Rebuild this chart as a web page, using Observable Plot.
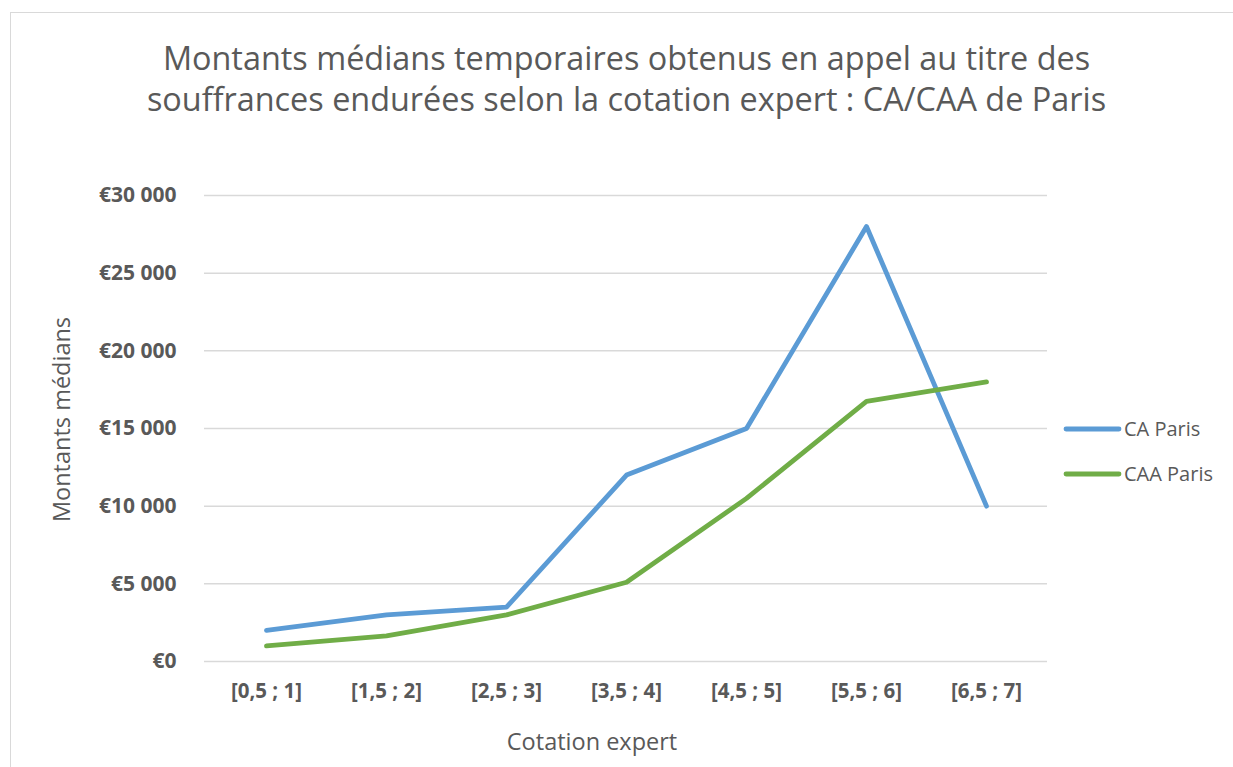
<!DOCTYPE html>
<html>
<head>
<meta charset="utf-8">
<script src="https://cdn.jsdelivr.net/npm/d3@7"></script>
<script src="https://cdn.jsdelivr.net/npm/@observablehq/plot@0.6"></script>
<style>
  html, body { margin: 0; padding: 0; background: #fff; }
  body { width: 1233px; height: 767px; overflow: hidden; position: relative; font-family: "Open Sans", sans-serif; }
  #frame { position: absolute; left: 10px; top: 12px; width: 1240px; height: 800px; border: 1.5px solid #d9d9d9; box-sizing: border-box; }
  #title { position: relative; width: 1233px; height: 150px; text-align: center; color: #595959; font-size: 32.4px; line-height: 41px; padding-top: 37px; padding-left: 20px; box-sizing: border-box; font-family: "Open Sans", sans-serif; white-space: nowrap; }
  #chart { position: relative; }
  #legend { position: absolute; left: 1063px; top: 406px; color: #595959; font-size: 20px; font-family: "Open Sans", sans-serif; }
  .item { display: flex; align-items: center; height: 45px; }
  .item svg { margin-right: 2px; }
</style>
</head>
<body>
<div id="frame"></div>
<div id="title">Montants médians temporaires obtenus en appel au titre des<br>souffrances endurées selon la cotation expert : CA/CAA de Paris</div>
<div id="chart"></div>
<div id="legend"></div>
<script>
const categories = ["[0,5 ; 1]", "[1,5 ; 2]", "[2,5 ; 3]", "[3,5 ; 4]", "[4,5 ; 5]", "[5,5 ; 6]", "[6,5 ; 7]"];
const seriesNames = ["CA Paris", "CAA Paris"];
const caParis = [2000, 3000, 3500, 12000, 15000, 28000, 10000];
const caaParis = [1000, 1650, 3000, 5100, 10500, 16750, 18000];
const yTicks = [0, 5000, 10000, 15000, 20000, 25000, 30000];
const colors = ["#5b9bd5", "#70ad47"];

const data = [];
categories.forEach((c, i) => {
  data.push({cat: c, series: seriesNames[0], value: caParis[i]});
  data.push({cat: c, series: seriesNames[1], value: caaParis[i]});
});

const fmt = d => "€" + d3.format(",")(d).replace(/,/g, " ");

const chart = Plot.plot({
  width: 1233,
  height: 617,
  marginTop: 45,
  marginBottom: 106,
  marginLeft: 204,
  marginRight: 186,
  style: {fontFamily: "'Open Sans', sans-serif", color: "#595959", background: "transparent"},
  x: {type: "point", domain: categories, padding: 0.5, label: null},
  y: {domain: [0, 30000], label: null},
  color: {domain: seriesNames, range: colors},
  marks: [
    Plot.gridY(yTicks, {stroke: "#d9d9d9", strokeOpacity: 1, strokeWidth: 1.5}),
    Plot.axisY(yTicks, {tickSize: 0, tickPadding: 28, tickFormat: fmt, fontSize: 21, fontWeight: "bold", fill: "#595959", label: null}),
    Plot.axisX({tickSize: 0, tickPadding: 22, fontSize: 20.5, fontWeight: "bold", fill: "#595959", label: null}),
    Plot.lineY(data, {x: "cat", y: "value", z: "series", stroke: "series", strokeWidth: 4.8, strokeLinejoin: "round", strokeLinecap: "round"}),
    Plot.text(["Montants médians"], {frameAnchor: "left", textAnchor: "middle", dx: -142, dy: -9, rotate: -90, fontSize: 23.5, fill: "#595959", text: d => d}),
    Plot.text(["Cotation expert"], {frameAnchor: "bottom", dy: 88, dx: -34, fontSize: 23.5, fill: "#595959", text: d => d})
  ]
});
document.getElementById("chart").appendChild(chart);

const legend = document.getElementById("legend");
seriesNames.forEach((name, i) => {
  const item = document.createElement("div");
  item.className = "item";
  item.innerHTML = `<svg width="59" height="8"><line x1="3" y1="4" x2="56" y2="4" stroke="${colors[i]}" stroke-width="4.8" stroke-linecap="round"/></svg><span>${name}</span>`;
  legend.appendChild(item);
});
</script>
</body>
</html>
